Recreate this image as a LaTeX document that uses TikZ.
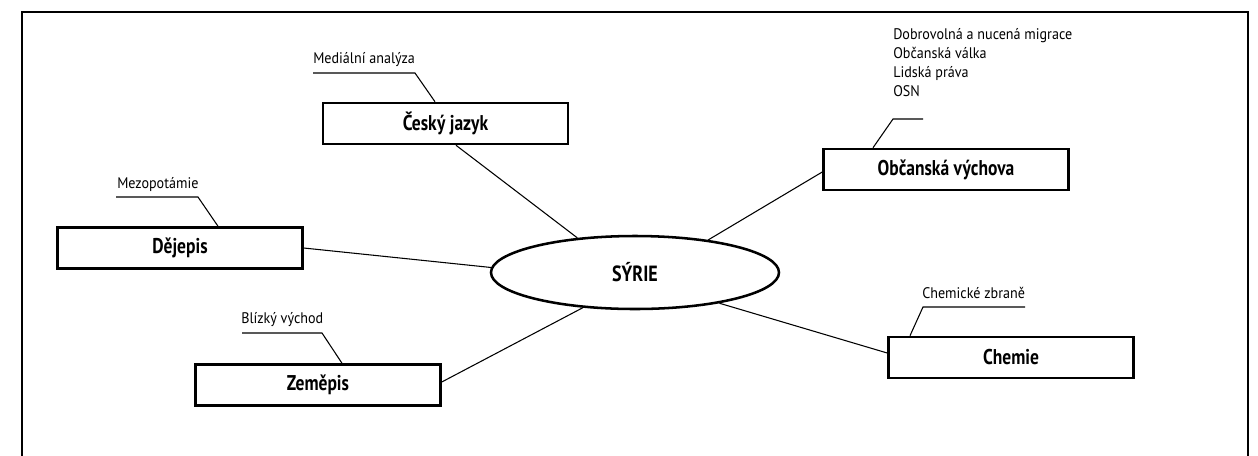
\documentclass[tikz,border=0pt]{standalone}
\usepackage{fontspec}
\setmainfont{PT Sans}[FakeStretch=0.82]
\newfontfamily\notefont{PT Sans}[FakeStretch=0.92]
\usetikzlibrary{shapes.geometric,calc}

\begin{document}
\begin{tikzpicture}[x=0.75pt,y=-0.75pt,
  frame/.style={line width=2pt},
  subject/.style={draw, line width=1.9pt, minimum width=183.75pt, minimum height=30.75pt,
    inner sep=0pt, font=\fontsize{16}{19}\selectfont\bfseries},
  hub/.style={draw, ellipse, line width=1.9pt, minimum width=216pt, minimum height=54.75pt,
    inner sep=0pt, font=\fontsize{16.5}{19}\selectfont\bfseries},
  link/.style={line width=0.8pt},
  lead/.style={line width=0.8pt},
  note/.style={font=\notefont\fontsize{11.5}{14.4}\selectfont, inner sep=0pt, anchor=base west},
  notes/.style={font=\notefont\fontsize{11.5}{14.4}\selectfont, inner sep=0pt, anchor=north west, align=left}]
\useasboundingbox (0,0) rectangle (1258,455);
\fill[white] (0,0) rectangle (1258,455);

% open frame around the map
\draw[frame] (22,456) -- (22,12) -- (1248,12) -- (1248,456);

% central topic and subjects
\node[hub] (syr) at (635,272.5) {SÝRIE};
\node[subject] (cj)  at (445.5,123.5) {Český jazyk};
\node[subject] (dej) at (180,248)     {Dějepis};
\node[subject] (zem) at (318,385)     {Zeměpis};
\node[subject] (obc) at (946,169.5)   {Občanská výchova};
\node[subject] (che) at (1011,357.5)  {Chemie};

% spokes
\draw[link] ($(cj.south)+(10.5,0)$) -- (syr.149);
\draw[link] (dej.east) -- (syr.178);
\draw[link] ($(zem.east)+(0,-3)$) -- (syr.214);
\draw[link] ($(obc.west)+(0,2.5)$) -- (syr.24);
\draw[link] ($(che.west)+(0,-4.5)$) -- (syr.340);

% topic notes with leader lines
\node[note] (med) at (313,63) {Mediální analýza};
\coordinate (medA) at (415,73); \coordinate (medB) at (313,73);
\draw[lead] ($(cj.north)+(-10.5,0)$) -- (medA) -- (medB);

\node[note] (mez) at (117,188) {Mezopotámie};
\coordinate (mezA) at (198,197); \coordinate (mezB) at (116,197);
\draw[lead] ($(dej.north)+(38,0)$) -- (mezA) -- (mezB);

\node[note] (bv) at (241,323) {Blízký východ};
\coordinate (bvA) at (322,333); \coordinate (bvB) at (242,333);
\draw[lead] ($(zem.north)+(24,0)$) -- (bvA) -- (bvB);

\node[note] (cz) at (922,298) {Chemické zbraně};
\coordinate (czA) at (923,307); \coordinate (czB) at (1025,307);
\draw[lead] ($(che.north)+(-101,0)$) -- (czA) -- (czB);

\node[notes] (ov) at (893,28) {Dobrovolná a nucená migrace\\Občanská válka\\Lidská práva\\OSN};
\coordinate (ovA) at (893,119); \coordinate (ovB) at (923,119);
\draw[lead] ($(obc.north)+(-73,0)$) -- (ovA) -- (ovB);
\end{tikzpicture}
\end{document}
